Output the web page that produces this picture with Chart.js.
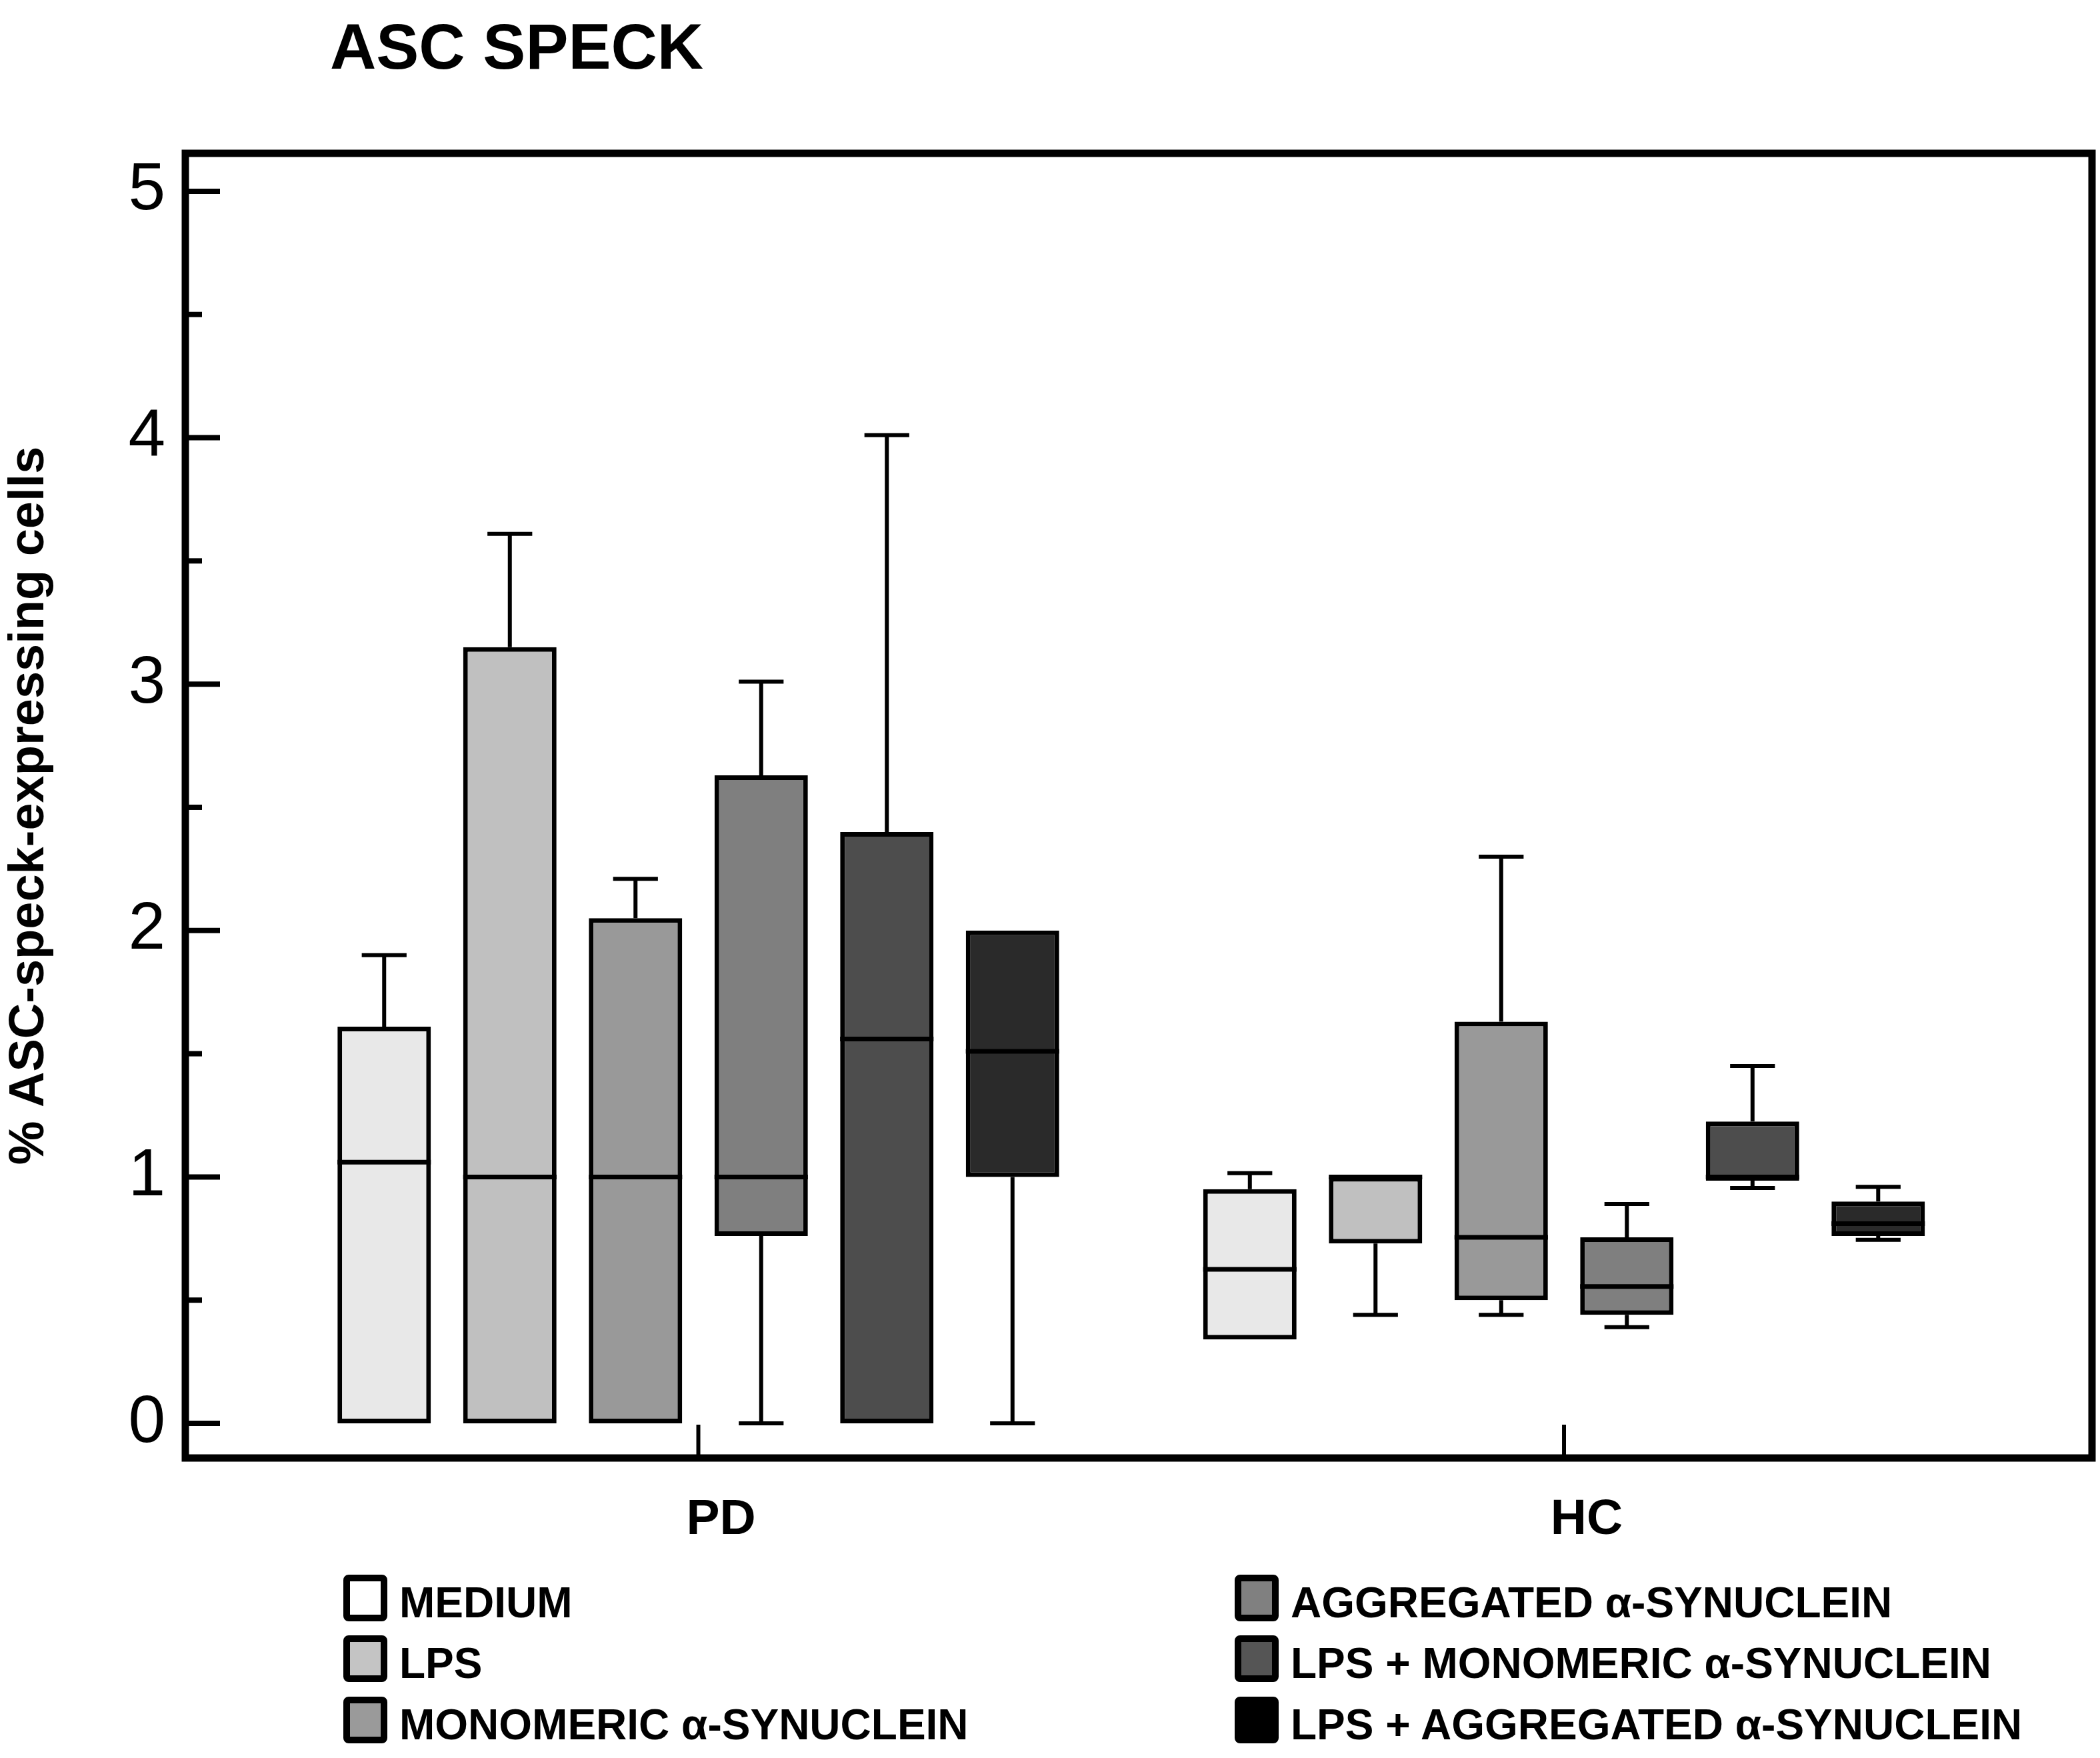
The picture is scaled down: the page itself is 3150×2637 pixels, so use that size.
<!DOCTYPE html>
<html>
<head>
<meta charset="utf-8">
<script src="https://cdn.jsdelivr.net/npm/chart.js@4.4.1/dist/chart.umd.min.js"></script>
<style>
  html, body { margin: 0; padding: 0; background: #fff; }
  #lienzo { position: relative; width: 3150px; height: 2637px; font-family: 'Liberation Sans', Arial, sans-serif; color: #000; }
  #grafica { position: absolute; left: 0; top: 0; }
  #titulo { position: absolute; left: 495px; top: 22px; font-size: 96px; font-weight: bold; line-height: 1; white-space: nowrap; }
  .ley-item { position: absolute; height: 70px; }
  .ley-caja { position: absolute; left: 0; top: 0; width: 46px; height: 50px; border: 10px solid #000; border-radius: 8px; }
  .ley-texto { position: absolute; left: 84px; top: 10px; font-size: 64px; font-weight: bold; line-height: 1; white-space: nowrap; }
</style>
</head>
<body>
<div id="lienzo">
  <canvas id="grafica" width="3150" height="2637"></canvas>
  <div id="titulo">ASC SPECK</div>
  <div id="leyenda"></div>
</div>
<script>
// --- Datos --------------------------------------------------------------------
const GROUPS = ['PD', 'HC'];
const GROUP_X = [0, 1];
const TREATMENTS = [
  'MEDIUM',
  'LPS',
  'MONOMERIC α-SYNUCLEIN',
  'AGGREGATED α-SYNUCLEIN',
  'LPS + MONOMERIC α-SYNUCLEIN',
  'LPS + AGGREGATED α-SYNUCLEIN',
];

// cajas: mínimo, cuartil 1, mediana, cuartil 3, máximo (orden de TREATMENTS)
const PD_MIN    = [0,    0,    0,    0,    0,    0];
const PD_Q1     = [0,    0,    0,    0.76, 0,    1.0];
const PD_MEDIAN = [1.06, 1.0,  1.0,  1.0,  1.56, 1.51];
const PD_Q3     = [1.61, 3.15, 2.05, 2.63, 2.40, 2.0];
const PD_MAX    = [1.90, 3.61, 2.21, 3.01, 4.01, 2.0];

const HC_MIN    = [0.34, 0.44, 0.44, 0.39,  0.955, 0.745];
const HC_Q1     = [0.34, 0.73, 0.50, 0.44,  0.985, 0.76];
const HC_MEDIAN = [0.625, 1.0, 0.755, 0.555, 1.0,  0.81];
const HC_Q3     = [0.95, 1.0,  1.63, 0.755, 1.225, 0.90];
const HC_MAX    = [1.015, 1.0, 2.30, 0.89,  1.45,  0.96];

const Y_TICKS = [0, 0.5, 1, 1.5, 2, 2.5, 3, 3.5, 4, 4.5, 5];
const Y_TITLE = '% ASC-speck-expressing cells';

// --- Estilos ------------------------------------------------------------------
const BOX_COLORS = ['#e8e8e8', '#c0c0c0', '#999999', '#7f7f7f', '#4d4d4d', '#2a2a2a'];
const LEGEND_COLORS = ['#ffffff', '#c4c4c4', '#9a9a9a', '#808080', '#555555', '#000000'];
const FUENTE = "'Liberation Sans', Arial, sans-serif";

// tablas por grupo (índice 0 = PD, 1 = HC)
const MIN = [PD_MIN, HC_MIN];
const Q1 = [PD_Q1, HC_Q1];
const MEDIAN = [PD_MEDIAN, HC_MEDIAN];
const Q3 = [PD_Q3, HC_Q3];
const MAX = [PD_MAX, HC_MAX];

Chart.defaults.font.family = FUENTE;
Chart.defaults.color = '#000';

// medianas y bigotes encima de las barras flotantes (q1..q3)
const bigotesPlugin = {
  id: 'bigotes',
  afterDatasetsDraw(chart) {
    const { ctx } = chart;
    const y = chart.scales.y;
    ctx.save();
    ctx.strokeStyle = '#000';
    chart.data.datasets.forEach((ds, i) => {
      const meta = chart.getDatasetMeta(i);
      meta.data.forEach((bar, j) => {
        const x = bar.x;
        const w = bar.width;
        const tapa = w * 0.48;
        const pQ1 = y.getPixelForValue(Q1[j][i]);
        const pQ3 = y.getPixelForValue(Q3[j][i]);

        ctx.lineWidth = 6;
        if (MAX[j][i] > Q3[j][i]) {
          const pMax = y.getPixelForValue(MAX[j][i]);
          ctx.beginPath();
          ctx.moveTo(x, pQ3); ctx.lineTo(x, pMax);
          ctx.moveTo(x - tapa / 2, pMax); ctx.lineTo(x + tapa / 2, pMax);
          ctx.stroke();
        }
        if (MIN[j][i] < Q1[j][i]) {
          const pMin = y.getPixelForValue(MIN[j][i]);
          ctx.beginPath();
          ctx.moveTo(x, pQ1); ctx.lineTo(x, pMin);
          ctx.moveTo(x - tapa / 2, pMin); ctx.lineTo(x + tapa / 2, pMin);
          ctx.stroke();
        }

        ctx.lineWidth = 7;
        const pMed = y.getPixelForValue(MEDIAN[j][i]);
        ctx.beginPath();
        ctx.moveTo(x - w / 2, pMed); ctx.lineTo(x + w / 2, pMed);
        ctx.stroke();
      });
    });
    ctx.restore();
  },
};

// marco y marcas hacia dentro
const marcoPlugin = {
  id: 'marco',
  afterDraw(chart) {
    const { ctx, chartArea: a } = chart;
    const { x, y } = chart.scales;
    ctx.save();
    ctx.strokeStyle = '#000';

    ctx.lineWidth = 8;
    Y_TICKS.forEach((v) => {
      const py = y.getPixelForValue(v);
      const largo = Number.isInteger(v) ? 52 : 25;
      ctx.beginPath();
      ctx.moveTo(a.left, py); ctx.lineTo(a.left + largo, py);
      ctx.stroke();
    });

    ctx.lineWidth = 6;
    GROUP_X.forEach((v) => {
      const px = x.getPixelForValue(v);
      ctx.beginPath();
      ctx.moveTo(px, a.bottom); ctx.lineTo(px, a.bottom - 50);
      ctx.stroke();
    });

    ctx.lineWidth = 11;
    ctx.strokeRect(a.left, a.top, a.right - a.left, a.bottom - a.top);
    ctx.restore();
  },
};

new Chart(document.getElementById('grafica'), {
  type: 'bar',
  data: {
    datasets: TREATMENTS.map((nombre, i) => ({
      label: nombre,
      data: GROUP_X.map((gx, j) => ({ x: gx, y: [Q1[j][i], Q3[j][i]] })),
      backgroundColor: BOX_COLORS[i],
      borderColor: '#000',
      borderWidth: 7,
      borderSkipped: false,
      categoryPercentage: 0.871,
      barPercentage: 0.743,
    })),
  },
  options: {
    responsive: false,
    animation: false,
    layout: { padding: { left: 0, right: 12, top: 230, bottom: 300 } },
    plugins: { legend: { display: false }, tooltip: { enabled: false } },
    scales: {
      x: {
        type: 'linear',
        min: -0.5926,
        max: 1.6099,
        offset: false,
        afterBuildTicks: (s) => { s.ticks = GROUP_X.map((v) => ({ value: v })); },
        afterFit: (s) => { s.height = 150; },
        grid: { display: false, drawTicks: false },
        border: { display: false },
        ticks: {
          callback: (v) => GROUPS[GROUP_X.indexOf(v)] ?? '',
          font: { size: 75, weight: 'bold' },
          padding: 48,
          labelOffset: 34,
          maxRotation: 0,
          autoSkip: false,
        },
      },
      y: {
        min: -0.1407,
        max: 5.154,
        afterBuildTicks: (s) => { s.ticks = Y_TICKS.map((v) => ({ value: v })); },
        afterFit: (s) => { s.width = 278; },
        grid: { display: false, drawTicks: false },
        border: { display: false },
        ticks: {
          callback: (v) => (Number.isInteger(v) ? String(v) : ''),
          font: { size: 100 },
          padding: 30,
          autoSkip: false,
        },
        title: {
          display: true,
          text: Y_TITLE,
          font: { size: 74, weight: 'bold' },
          padding: { top: 0, bottom: 0 },
        },
      },
    },
  },
  plugins: [bigotesPlugin, marcoPlugin],
});

// --- Leyenda en dos columnas ----------------------------------------------------
const COL_LEFT = [515, 1852];
const ROW_TOP = [2362, 2453, 2545];
const leyenda = document.getElementById('leyenda');
TREATMENTS.forEach((nombre, i) => {
  const item = document.createElement('div');
  item.className = 'ley-item';
  item.style.left = COL_LEFT[Math.floor(i / 3)] + 'px';
  item.style.top = ROW_TOP[i % 3] + 'px';
  const caja = document.createElement('div');
  caja.className = 'ley-caja';
  caja.style.background = LEGEND_COLORS[i];
  const texto = document.createElement('div');
  texto.className = 'ley-texto';
  texto.textContent = nombre;
  item.appendChild(caja);
  item.appendChild(texto);
  leyenda.appendChild(item);
});
</script>
</body>
</html>
